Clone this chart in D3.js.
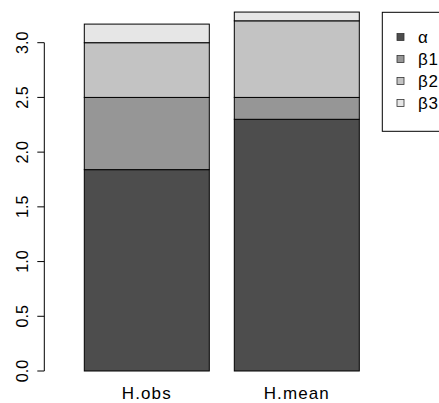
<!DOCTYPE html>
<html>
<head>
<meta charset="utf-8">
<script src="https://cdn.jsdelivr.net/npm/d3@7"></script>
<style>
  body { margin: 0; background: #fff; }
  svg { display: block; font-family: "Liberation Sans", Arial, sans-serif; }
</style>
</head>
<body>
<div id="chart"></div>
<script>
// stacked bars, one per statistic
const groups = ["H.obs", "H.mean"];
const components = ["α", "β1", "β2", "β3"];
const alphaVals = [1.84, 2.30];
const beta1Vals = [0.66, 0.20];
const beta2Vals = [0.50, 0.70];
const beta3Vals = [0.17, 0.08];
const yTicks = [0, 0.5, 1, 1.5, 2, 2.5, 3];
const colours = ["#4D4D4D", "#969696", "#C3C3C3", "#E6E6E6"];

const W = 439, H = 403;
const svg = d3.select("#chart").append("svg").attr("width", W).attr("height", H);

const rows = groups.map((g, i) => ({
  group: g, "α": alphaVals[i], "β1": beta1Vals[i], "β2": beta2Vals[i], "β3": beta3Vals[i]
}));
const stacked = d3.stack().keys(components)(rows);

const x = d3.scaleBand().domain(groups).range([84.3, 359.3]).paddingInner(0.2 / 1.2).paddingOuter(0);
const y = d3.scaleLinear().domain([0, 3]).range([371, 42.7]);
const colour = d3.scaleOrdinal().domain(components).range(colours);

// bars
svg.append("g").selectAll("g").data(stacked).enter().append("g")
  .attr("fill", d => colour(d.key))
  .selectAll("rect").data(d => d).enter().append("rect")
  .attr("x", d => x(d.data.group))
  .attr("width", x.bandwidth())
  .attr("y", d => y(d[1]))
  .attr("height", d => y(d[0]) - y(d[1]))
  .attr("stroke", "#000").attr("stroke-width", 1);

// y axis, R style
const ax = svg.append("g").attr("transform", "translate(44.3,0)");
ax.append("line").attr("x1", 0).attr("x2", 0)
  .attr("y1", y(yTicks[0])).attr("y2", y(yTicks[yTicks.length - 1]))
  .attr("stroke", "#000");
ax.selectAll("line.tick").data(yTicks).enter().append("line").attr("class", "tick")
  .attr("x1", 0).attr("x2", -7).attr("y1", d => y(d)).attr("y2", d => y(d))
  .attr("stroke", "#000");
ax.selectAll("text").data(yTicks).enter().append("text")
  .attr("transform", d => `translate(-16,${y(d)}) rotate(-90)`)
  .attr("text-anchor", "middle")
  .attr("font-size", 16.2)
  .text(d3.format(".1f"));

// group labels
svg.selectAll("text.xlab").data(groups).enter().append("text").attr("class", "xlab")
  .attr("x", d => x(d) + x.bandwidth() / 2).attr("y", 399)
  .attr("text-anchor", "middle").attr("font-size", 17).attr("letter-spacing", 1.1)
  .text(d => d);

// legend
const lg = svg.append("g");
lg.append("rect").attr("x", 382.3).attr("y", 12.3).attr("width", 80).attr("height", 119)
  .attr("fill", "#fff").attr("stroke", "#000");
const items = lg.selectAll("g.item").data(components).enter().append("g").attr("class", "item")
  .attr("transform", (d, i) => `translate(0,${37 + i * 22})`);
items.append("rect").attr("x", 397).attr("y", -3.5).attr("width", 7).attr("height", 7)
  .attr("fill", d => colour(d)).attr("stroke", "#333").attr("stroke-width", 0.8);
items.append("text").attr("x", 418).attr("dy", "0.35em").attr("font-size", 17).attr("letter-spacing", 0.8)
  .text(d => d);
</script>
</body>
</html>
